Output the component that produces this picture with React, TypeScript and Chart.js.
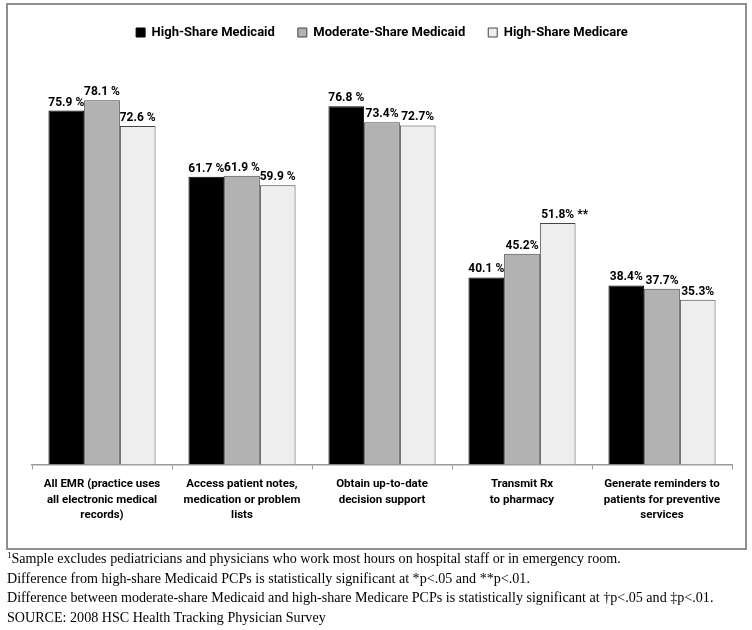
import React, { useEffect, useRef } from "react";
import { Chart, registerables } from "chart.js";

Chart.register(...registerables);

const categories: string[][] = [
  ["All EMR (practice uses", "all electronic medical", "records)"],
  ["Access patient notes,", "medication or problem", "lists"],
  ["Obtain up-to-date", "decision support"],
  ["Transmit Rx", "to pharmacy"],
  ["Generate reminders to", "patients for preventive", "services"],
];

const seriesNames = ["High-Share Medicaid", "Moderate-Share Medicaid", "High-Share Medicare"];

const highShareMedicaid = [75.9, 61.7, 76.8, 40.1, 38.4];
const moderateShareMedicaid = [78.1, 61.9, 73.4, 45.2, 37.7];
const highShareMedicare = [72.6, 59.9, 72.7, 51.8, 35.3];

const highShareMedicaidLabels = ["75.9 %", "61.7 %", "76.8 %", "40.1 %", "38.4%"];
const moderateShareMedicaidLabels = ["78.1 %", "61.9 %", "73.4%", "45.2%", "37.7%"];
const highShareMedicareLabels = ["72.6 %", "59.9 %", "72.7%", "51.8%", "35.3%"];

const highShareMedicaidMarks = ["", "", "", "", ""];
const moderateShareMedicaidMarks = ["", "", "", "", ""];
const highShareMedicareMarks = ["", "", "", "**", ""];

const footnotes = [
  "Sample excludes pediatricians and physicians who work most hours on hospital staff or in emergency room.",
  "Difference from high-share Medicaid PCPs is statistically significant at *p<.05 and **p<.01.",
  "Difference between moderate-share Medicaid and high-share Medicare PCPs is statistically significant at \u2020p<.05 and \u2021p<.01.",
  "SOURCE: 2008 HSC Health Tracking Physician Survey",
];

const SANS = 'Roboto, "Liberation Sans", sans-serif';

const labelSets = [highShareMedicaidLabels, moderateShareMedicaidLabels, highShareMedicareLabels];
const markSets = [highShareMedicaidMarks, moderateShareMedicaidMarks, highShareMedicareMarks];

const valueLabelPlugin = {
  id: "valueLabels",
  afterDatasetsDraw(chart: any) {
    const ctx = chart.ctx;
    ctx.save();
    ctx.font = `bold 12px ${SANS}`;
    ctx.fillStyle = "#000";
    ctx.textBaseline = "alphabetic";
    chart.data.datasets.forEach((_ds: any, di: number) => {
      const meta = chart.getDatasetMeta(di);
      meta.data.forEach((bar: any, i: number) => {
        const txt = labelSets[di][i];
        const mark = markSets[di][i];
        const y = bar.y - 5;
        ctx.textAlign = "center";
        ctx.fillText(txt, bar.x, y);
        if (mark) {
          const w = ctx.measureText(txt).width;
          ctx.textAlign = "left";
          ctx.fillText(" " + mark, bar.x + w / 2, y);
        }
      });
    });
    ctx.restore();
  },
};

export default function App() {
  const canvasRef = useRef<HTMLCanvasElement | null>(null);

  useEffect(() => {
    if (!canvasRef.current) return;
    const chart = new Chart(canvasRef.current, {
      type: "bar",
      data: {
        labels: categories,
        datasets: [
          {
            label: seriesNames[0],
            data: highShareMedicaid,
            backgroundColor: "#000000",
            borderColor: "#000000",
            borderWidth: 1,
          },
          {
            label: seriesNames[1],
            data: moderateShareMedicaid,
            backgroundColor: "#b2b2b2",
            borderColor: "#444444",
            borderWidth: 1,
          },
          {
            label: seriesNames[2],
            data: highShareMedicare,
            backgroundColor: "#eeeeee",
            borderColor: "#444444",
            borderWidth: 1,
          },
        ],
      },
      options: {
        animation: false,
        responsive: false,
        maintainAspectRatio: false,
        devicePixelRatio: 1,
        layout: { padding: { left: 32, right: 20, top: 3, bottom: 19 } },
        datasets: {
          bar: { categoryPercentage: 0.765, barPercentage: 1.0 },
        },
        plugins: {
          legend: {
            display: true,
            position: "top",
            labels: {
              boxWidth: 9,
              boxHeight: 9,
              padding: 23,
              color: "#000",
              font: { family: SANS, size: 13, weight: "bold" },
            },
          },
          tooltip: { enabled: false },
        },
        scales: {
          x: {
            grid: {
              display: true,
              drawOnChartArea: false,
              drawTicks: true,
              tickLength: 5,
              color: "#999999",
              offset: true,
            },
            border: { display: true, color: "#999999", width: 1.5 },
            ticks: {
              color: "#000",
              maxRotation: 0,
              minRotation: 0,
              autoSkip: false,
              padding: 7,
              font: { family: SANS, size: 11.5, weight: "bold", lineHeight: 1.35 },
            },
          },
          y: {
            display: false,
            min: 0,
            max: 89.1,
          },
        },
      },
      plugins: [valueLabelPlugin],
    });
    return () => chart.destroy();
  }, []);

  return (
    <div style={{ position: "absolute", left: 0, top: 0, width: 752, height: 630, background: "#fff" }}>
      <canvas ref={canvasRef} width={752} height={549} style={{ position: "absolute", left: 0, top: 0, width: 752, height: 549 }} />
      <div
        style={{
          position: "absolute",
          left: 6,
          top: 3,
          width: 741,
          height: 547,
          boxSizing: "border-box",
          border: "2px solid #8f8f8f",
          pointerEvents: "none",
        }}
      />
      <div
        style={{
          position: "absolute",
          left: 7,
          top: 549,
          width: 745,
          fontFamily: '"Liberation Serif", "DejaVu Serif", serif',
          fontSize: 14.1,
          lineHeight: "19.5px",
          color: "#000",
          whiteSpace: "nowrap",
        }}
      >
        {footnotes.map((t, i) => (
          <div key={i}>
            {i === 0 ? <sup style={{ fontSize: 9, verticalAlign: "top", lineHeight: "12px" }}>1</sup> : null}
            {t}
          </div>
        ))}
      </div>
    </div>
  );
}
